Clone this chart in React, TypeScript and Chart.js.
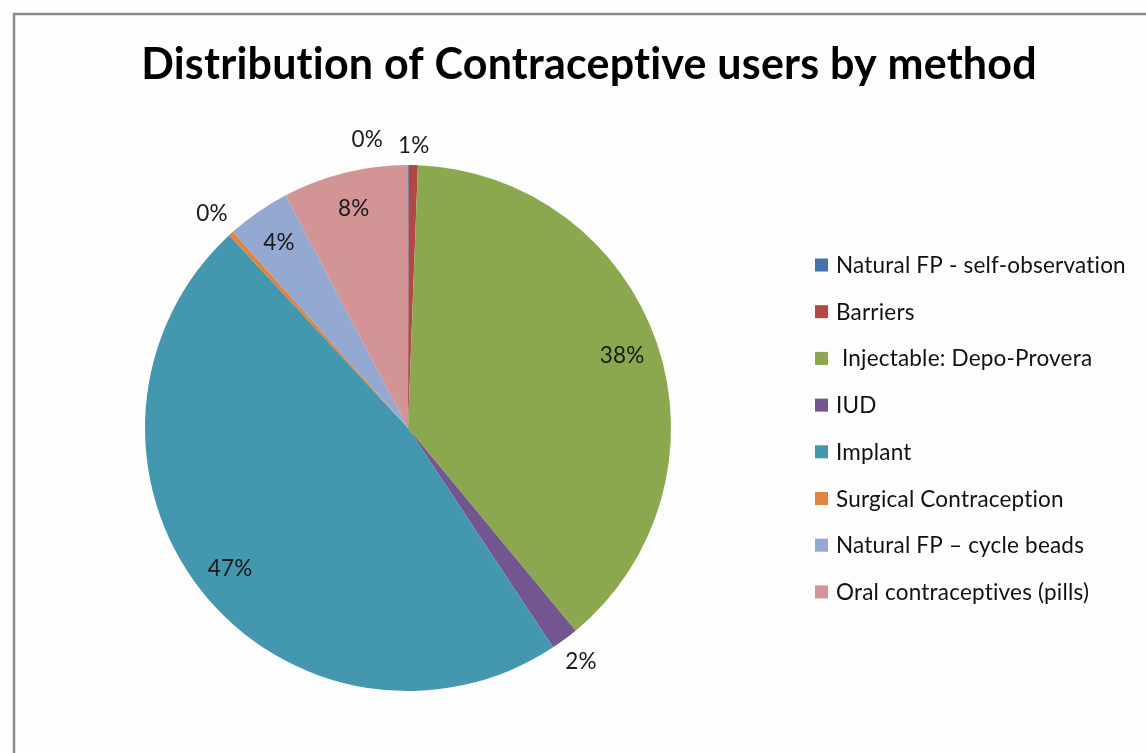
import React, { useEffect, useRef } from "react";
import { Chart, registerables } from "chart.js";

Chart.register(...registerables);

const chartTitle = "Distribution of Contraceptive users by method";
const methods = [
  "Natural FP - self-observation",
  "Barriers",
  " Injectable: Depo-Provera",
  "IUD",
  "Implant",
  "Surgical Contraception",
  "Natural FP \u2013 cycle beads",
  "Oral contraceptives (pills)",
];
const shares = [0.05, 0.55, 38.4, 1.7, 47.4, 0.3, 3.9, 7.7];
const sliceColors = [
  "#4672A8",
  "#B24745",
  "#8BA84F",
  "#735590",
  "#4398B0",
  "#E0843E",
  "#93A9D2",
  "#D39495",
];

const FONT = "Lato, 'Open Sans', sans-serif";

function noLig(ctx: any) {
  try {
    ctx.letterSpacing = "0.2px";
    ctx.textRendering = "optimizeSpeed";
  } catch (e) {}
}

const decorPlugin = {
  id: "decor",
  beforeDraw(chart: any) {
    const ctx = chart.ctx;
    ctx.save();
    ctx.fillStyle = "#fdfdfd";
    ctx.fillRect(0, 0, chart.width, chart.height);
    ctx.strokeStyle = "#8a8a8a";
    ctx.lineWidth = 2.5;
    ctx.beginPath();
    ctx.moveTo(14, chart.height);
    ctx.lineTo(14, 14);
    ctx.lineTo(chart.width, 14);
    ctx.stroke();
    ctx.restore();
  },
  afterDraw(chart: any) {
    const ctx = chart.ctx;
    ctx.save();
    noLig(ctx);
    // title
    ctx.fillStyle = "#000";
    ctx.font = `bold 43px ${FONT}`;
    ctx.textAlign = "center";
    ctx.textBaseline = "alphabetic";
    ctx.fillText(chartTitle, 589, 79);

    // legend
    const labels: string[] = chart.data.labels;
    const colors: string[] = chart.data.datasets[0].backgroundColor;
    ctx.font = `22.5px ${FONT}`;
    ctx.textAlign = "left";
    labels.forEach((lab, i) => {
      const y = 265 + i * 46.7;
      ctx.fillStyle = colors[i];
      ctx.fillRect(815, y - 6.5, 13, 13);
      ctx.fillStyle = "#111";
      ctx.fillText(lab, 836, y + 8);
    });

    // data labels
    const meta = chart.getDatasetMeta(0);
    const data: number[] = chart.data.datasets[0].data;
    const total = data.reduce((a, b) => a + b, 0);
    ctx.font = `22.5px ${FONT}`;
    ctx.textAlign = "center";
    ctx.fillStyle = "#1a1a1a";
    const placed: any[] = [];
    meta.data.forEach((arc: any, i: number) => {
      const p = arc.getProps(["x", "y", "startAngle", "endAngle", "outerRadius"], true);
      const mid = (p.startAngle + p.endAngle) / 2;
      const pct = (data[i] / total) * 100;
      const text = Math.round(pct) + "%";
      const w = ctx.measureText(text).width;
      const h = 18;
      let x, y;
      if (pct < 3) {
        const c = Math.cos(mid), s = Math.sin(mid);
        const r = p.outerRadius + 11 + Math.abs(c) * w / 2 + Math.abs(s) * h / 2;
        x = p.x + c * r;
        y = p.y + s * r;
      } else {
        const r = p.outerRadius * 0.86;
        x = p.x + Math.cos(mid) * r;
        y = p.y + Math.sin(mid) * r;
      }
      placed.push({ x, y, w, h, text, outside: pct < 3 });
    });
    for (let i = placed.length - 2; i >= 0; i--) {
      const a = placed[i];
      const b = placed[i + 1];
      if (!a.outside || !b.outside) continue;
      if (Math.abs(a.x - b.x) < (a.w + b.w) / 2 + 4 && Math.abs(a.y - b.y) < a.h) {
        a.x = b.x - (a.w + b.w) / 2 - 15;
        a.y -= 6;
      }
    }
    placed.forEach((l) => ctx.fillText(l.text, l.x, l.y + 8));
    ctx.restore();
  },
};

export default function App() {
  const ref = useRef<HTMLCanvasElement>(null);
  useEffect(() => {
    document.body.style.margin = "0";
    const chart = new Chart(ref.current!, {
      type: "pie",
      data: {
        labels: methods,
        datasets: [
          {
            data: shares,
            backgroundColor: sliceColors,
            borderWidth: 0,
          },
        ],
      },
      options: {
        responsive: false,
        animation: false,
        layout: { padding: { left: 145, right: 475, top: 165, bottom: 62 } },
        plugins: {
          legend: { display: false },
          title: { display: false },
          tooltip: { enabled: false },
        },
      },
      plugins: [decorPlugin],
    });
    return () => chart.destroy();
  }, []);
  return (
    <div style={{ width: 1146, height: 753 }}>
      <canvas ref={ref} width={1146} height={753} style={{ display: "block" }} />
    </div>
  );
}
